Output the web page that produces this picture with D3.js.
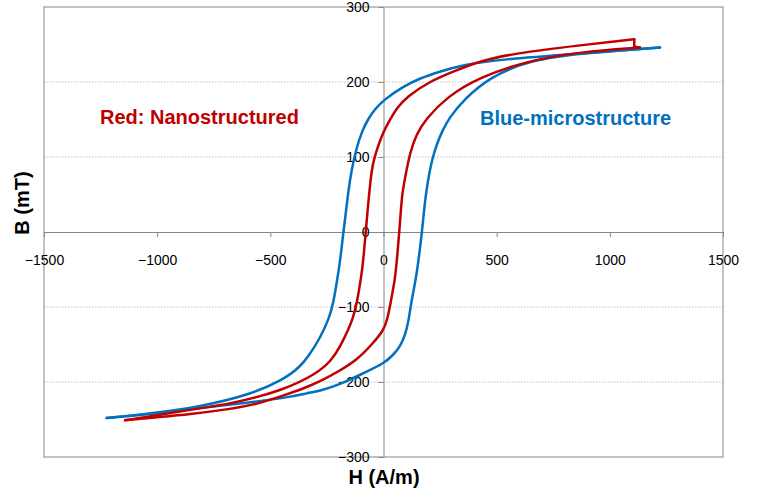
<!DOCTYPE html>
<html>
<head>
<meta charset="utf-8">
<script src="https://cdn.jsdelivr.net/npm/d3@7"></script>
<style>
  body { margin: 0; background: #fff; }
  svg { display: block; font-family: "Liberation Sans", Arial, sans-serif; }
</style>
</head>
<body>
<div id="svg-container"></div>
<script>
// ticks
const xTicks = [-1500, -1000, -500, 0, 500, 1000, 1500];
const yTicks = [-300, -200, -100, 0, 100, 200, 300];
const gridValues = [-200, -100, 100, 200];

// blue loop (microstructure), H in A/m, B in mT
const blueDownH = [1222, 868, 515, 353, 250, 161, 87, 0, -40, -65, -95, -122, -141, -155, -165, -178, -190, -205, -222, -240, -281, -330, -369, -443, -590, -811, -1031, -1223];
const blueDownB = [246, 238, 230, 223, 214, 205, 194, 176, 163, 152, 135, 109, 83, 55, 29, -2, -35, -65, -95, -115, -142, -165, -180, -197, -217, -233, -242, -248];
const blueUpH = [-1223, -1000, -855, -700, -560, -413, -339, -270, -192, -100, -40, 0, 40, 73, 95, 110, 122, 135, 147, 160, 169, 178, 187, 200, 215, 235, 260, 290, 353, 471, 647, 868, 1222];
const blueUpB = [-248, -242, -236, -231, -226, -220, -215, -211, -203, -190, -181, -175, -165, -153, -138, -120, -95, -75, -55, -25, -2, 25, 50, 75, 97, 117, 135, 152, 176, 207, 229, 238, 246];

// red loop (nanostructured)
const redUpH = [-1142, -1000, -855, -700, -560, -413, -339, -266, -200, -118, -45, 0, 15, 25, 40, 51, 60, 69, 76, 82, 95, 117, 145, 185, 279, 426, 647, 868, 1133];
const redUpB = [-251, -247, -243, -237, -230, -215, -207, -197, -186, -171, -148, -131, -118, -105, -80, -62, -35, -2, 25, 50, 72, 106, 130, 150, 180, 207, 229, 240, 246];
const redTipH = [1133, 1108, 1108];
const redTipB = [246, 247, 257];
const redDownH = [1108, 868, 574, 426, 309, 205, 102, 58, 29, 0, -25, -42, -52, -62, -70, -79, -87, -95, -105, -118, -135, -155, -192, -229, -295, -443, -664, -958, -1142];
const redDownB = [257, 249, 238, 228, 214, 201, 180, 165, 150, 134, 114, 97, 83, 55, 30, -2, -30, -52, -72, -95, -115, -130, -153, -171, -189, -211, -229, -242, -251];

////////////////////////////  Init  ///////////////////////////////
const width = 759;
const height = 492;
const svg = d3.select("#svg-container").append("svg")
  .attr("width", width).attr("height", height);

const plot = { left: 44, right: 723, top: 7, bottom: 457 };

const xScale = d3.scaleLinear().domain([-1500, 1500]).range([plot.left, plot.right]);
const yScale = d3.scaleLinear().domain([-300, 300]).range([plot.bottom, plot.top]);

// gridlines
svg.append("g").selectAll("line")
  .data(gridValues)
  .join("line")
  .attr("x1", plot.left).attr("x2", plot.right)
  .attr("y1", (d) => yScale(d)).attr("y2", (d) => yScale(d))
  .attr("stroke", "#bfbfbf")
  .attr("stroke-width", 1)
  .attr("stroke-dasharray", "1.5,1.5");

// border
svg.append("rect")
  .attr("x", plot.left).attr("y", plot.top)
  .attr("width", plot.right - plot.left).attr("height", plot.bottom - plot.top)
  .attr("fill", "none").attr("stroke", "#868686").attr("stroke-width", 1);

// axes through origin
const xAxis = d3.axisBottom(xScale).tickValues(xTicks).tickFormat(d3.format("d"))
  .tickSize(5).tickPadding(18).tickSizeOuter(0);
const yAxis = d3.axisLeft(yScale).tickValues(yTicks).tickFormat(d3.format("d"))
  .tickSize(5).tickPadding(9).tickSizeOuter(0);

const gx = svg.append("g")
  .attr("transform", `translate(0, ${yScale(0)})`)
  .call(xAxis);
const gy = svg.append("g")
  .attr("transform", `translate(${xScale(0)}, 0)`)
  .call(yAxis);

[gx, gy].forEach((g) => {
  g.select(".domain").attr("stroke", "#868686");
  g.selectAll(".tick line").attr("stroke", "#868686");
  g.selectAll(".tick text")
    .attr("fill", "#000")
    .style("font-size", "14px")
    .style("font-family", '"Liberation Sans", Arial, sans-serif');
});

// loops: smooth branches, straight tip connector
const smooth = d3.line()
  .curve(d3.curveBasis)
  .x((d) => xScale(d[0]))
  .y((d) => yScale(d[1]));
const straight = d3.line()
  .x((d) => xScale(d[0]))
  .y((d) => yScale(d[1]));

const zip = (hs, bs) => hs.map((h, i) => [h, bs[i]]);

const branches = [
  { color: "#0070c0", pts: zip(blueUpH, blueUpB), gen: smooth },
  { color: "#0070c0", pts: zip(blueDownH, blueDownB), gen: smooth },
  { color: "#c00000", pts: zip(redUpH, redUpB), gen: smooth },
  { color: "#c00000", pts: zip(redTipH, redTipB), gen: straight },
  { color: "#c00000", pts: zip(redDownH, redDownB), gen: smooth },
];

svg.append("g").selectAll("path")
  .data(branches)
  .join("path")
  .attr("d", (d) => d.gen(d.pts))
  .attr("fill", "none")
  .attr("stroke", (d) => d.color)
  .attr("stroke-width", 2.5)
  .attr("stroke-linejoin", "round")
  .attr("stroke-linecap", "round");

// axis titles
svg.append("text")
  .attr("x", 384).attr("y", 484)
  .attr("text-anchor", "middle")
  .style("font-size", "20px").style("font-weight", "bold")
  .text("H (A/m)");

svg.append("text")
  .attr("transform", "translate(29, 203) rotate(-90)")
  .attr("text-anchor", "middle")
  .style("font-size", "20px").style("font-weight", "bold")
  .text("B (mT)");

// annotations
svg.append("text")
  .attr("x", 100).attr("y", 124)
  .attr("fill", "#c00000")
  .style("font-size", "20px").style("font-weight", "bold")
  .text("Red: Nanostructured");

svg.append("text")
  .attr("x", 480).attr("y", 125)
  .attr("fill", "#0070c0")
  .style("font-size", "20px").style("font-weight", "bold")
  .text("Blue-microstructure");
</script>
</body>
</html>
